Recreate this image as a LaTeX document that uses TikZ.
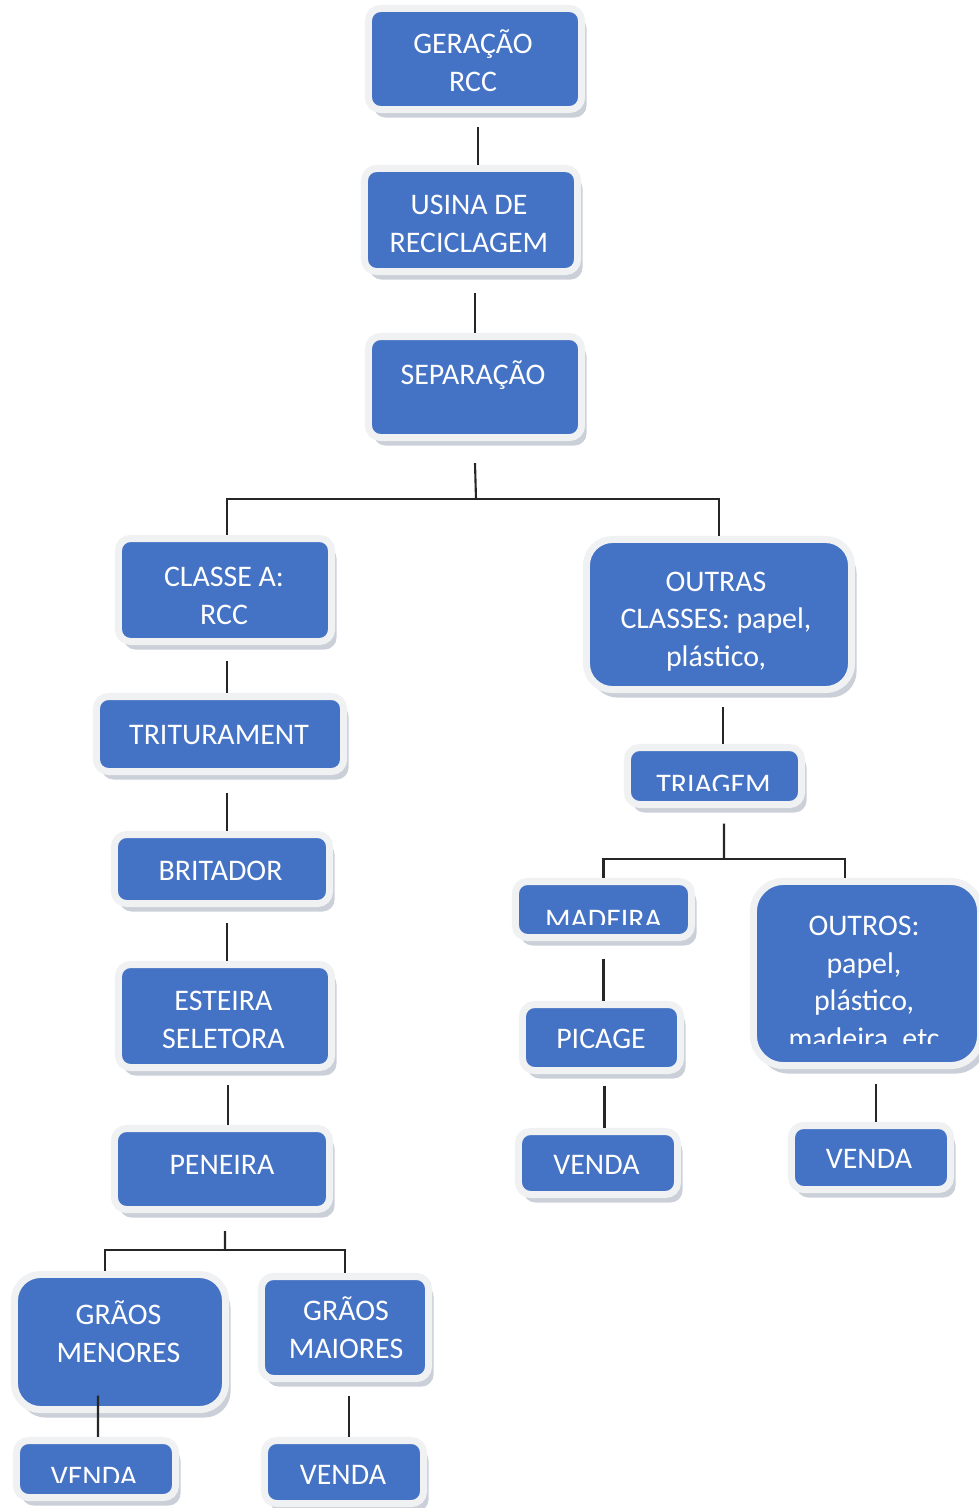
\documentclass[tikz,border=0pt]{standalone}
\usepackage{fontspec}
\setmainfont{Carlito}
\usetikzlibrary{shadows}
\definecolor{azul}{RGB}{68,114,196}
\definecolor{borda}{RGB}{240,241,243}
\definecolor{sombra}{RGB}{150,160,178}
\newcommand{\fonterot}{\fontsize{8.5}{10.7}\selectfont}

\begin{document}
\begin{tikzpicture}[x=0.01cm, y=-0.01cm,
	caixa/.style={rectangle, rounded corners=1.2mm, fill=azul, draw=borda, line width=2pt, inner sep=0pt,
		drop shadow={shadow xshift=0.5mm, shadow yshift=-0.8mm, fill=sombra}},
	caixag/.style={caixa, rounded corners=2.6mm},
	rotulo/.style={text=white, align=center, font=\fonterot, inner sep=0pt, anchor=base},
	linha/.style={line width=0.6pt, black!85}]
	\useasboundingbox (0,0) rectangle (978,1508);
	% tronco (rotulos: linha de base da ultima linha)
	\node[caixa, minimum width=2.13cm, minimum height=1.01cm] (ger) at (475,59) {};
	\node[rotulo] (tger) at (473,91.5) {GERAÇÃO\\RCC};
	\node[caixa, minimum width=2.13cm, minimum height=1.03cm] (usi) at (471,220) {};
	\node[rotulo] (tusi) at (469,252) {USINA DE\\RECICLAGEM};
	\node[caixa, minimum width=2.13cm, minimum height=1.01cm] (sep) at (475,387) {};
	\node[rotulo] (tsep) at (473,384.5) {SEPARAÇÃO};
	% ramo classe A
	\node[caixa, minimum width=2.13cm, minimum height=1.03cm] (cla) at (225,590) {};
	\node[rotulo] (tcla) at (224,624) {CLASSE A:\\RCC};
	\node[caixa, minimum width=2.47cm, minimum height=0.75cm] (tri) at (220,734) {};
	\node[rotulo] (ttri) at (219,744.5) {TRITURAMENT};
	\node[caixa, minimum width=2.15cm, minimum height=0.69cm] (bri) at (222,869) {};
	\node[rotulo] (tbri) at (220.5,880.5) {BRITADOR};
	\node[caixa, minimum width=2.13cm, minimum height=1.03cm] (est) at (225,1016) {};
	\node[rotulo] (test) at (223.5,1048) {ESTEIRA\\SELETORA};
	\node[caixa, minimum width=2.15cm, minimum height=0.81cm] (pen) at (222,1169) {};
	\node[rotulo] (tpen) at (222,1174.5) {PENEIRA};
	\node[caixag, minimum width=2.11cm, minimum height=1.35cm] (gme) at (120,1342) {};
	\node[rotulo] (tgme) at (118.5,1362) {GRÃOS\\MENORES};
	\node[caixa, minimum width=1.67cm, minimum height=1.02cm] (gma) at (345,1327.5) {};
	\node[rotulo] (tgma) at (346,1358) {GRÃOS\\MAIORES};
	\node[caixa, minimum width=1.59cm, minimum height=0.57cm] (ve1) at (96,1469) {};
	\begin{scope}
		\clip (ve1.north west) rectangle (ve1.east |- 0,1482);
		\node[rotulo] (tve1) at (94,1486) {VENDA};
	\end{scope}
	\node[caixa, minimum width=1.59cm, minimum height=0.63cm] (ve2) at (344,1472) {};
	\node[rotulo] (tve2) at (343,1484) {VENDA};
	% ramo outras classes
	\node[caixag, minimum width=2.65cm, minimum height=1.50cm] (out) at (719,614.5) {};
	\node[rotulo] (tout) at (716,666.5) {OUTRAS\\CLASSES: papel,\\plástico,};
	\node[caixa, minimum width=1.74cm, minimum height=0.57cm] (tria) at (714.5,776) {};
	\begin{scope}
		\clip (tria.north west) rectangle (tria.east |- 0,790);
		\node[rotulo] (ttria) at (713.5,794) {TRIAGEM};
	\end{scope}
	\node[caixa, minimum width=1.76cm, minimum height=0.56cm] (mad) at (603.5,909.5) {};
	\begin{scope}
		\clip (mad.north west) rectangle (mad.east |- 0,924);
		\node[rotulo] (tmad) at (603.5,929) {MADEIRA};
	\end{scope}
	\node[caixag, minimum width=2.27cm, minimum height=1.84cm, rounded corners=3mm] (outros) at (867,973.5) {};
	\begin{scope}
		\clip (outros.north west) rectangle (outros.east |- 0,1043);
		\node[rotulo] (toutros) at (864,1048.5) {OUTROS:\\papel,\\plástico,\\madeira, etc};
	\end{scope}
	\node[caixa, minimum width=1.58cm, minimum height=0.66cm] (pic) at (601.5,1037.5) {};
	\node[rotulo] (tpic) at (601,1048.5) {PICAGE};
	\node[caixa, minimum width=1.59cm, minimum height=0.63cm] (ve3) at (598,1163) {};
	\node[rotulo] (tve3) at (596.5,1174) {VENDA};
	\node[caixa, minimum width=1.59cm, minimum height=0.64cm] (ve4) at (871,1157.5) {};
	\node[rotulo] (tve4) at (869,1168.5) {VENDA};
	% ligacoes
	\coordinate (j1) at (476,499);
	\coordinate (j2) at (225,1250);
	\coordinate (j3) at (724,859);
	\draw[linha] ([xshift=0.3mm]ger.south) ++(0,14) -- ([xshift=0.3mm]ger.south |- usi.north);
	\draw[linha] ([xshift=0.4mm]usi.south) ++(0,18) -- ([xshift=0.4mm]usi.south |- sep.north);
	\draw[linha] (sep.south) ++(0,22) -- (j1);
	\draw[linha] ([xshift=0.2mm]cla.north) |- (j1) -| (out.north);
	\draw[linha] ([xshift=0.2mm]cla.south) ++(0,16) -- ([xshift=0.2mm]cla.south |- tri.north);
	\draw[linha] ([xshift=0.7mm]tri.south) ++(0,18) -- ([xshift=0.7mm]tri.south |- bri.north);
	\draw[linha] ([xshift=0.5mm]bri.south) ++(0,16) -- ([xshift=0.5mm]bri.south |- est.north);
	\draw[linha] ([xshift=0.3mm]est.south) ++(0,14) -- ([xshift=0.3mm]est.south |- pen.north);
	\draw[linha] ([xshift=0.3mm]pen.south) ++(0,18) -- (j2);
	\draw[linha] ([xshift=-1.5mm]gme.north) |- (j2) -| (gma.north);
	\draw[linha] (gme.south -| ve1.north) ++(2,-17.5) -- ([xshift=0.2mm]ve1.north);
	\draw[linha] ([xshift=0.4mm]gma.south) ++(0,13.5) -- ([xshift=0.4mm]gma.south |- ve2.north);
	\draw[linha] ([xshift=0.4mm]out.south) ++(0,14) -- ([xshift=0.4mm]out.south |- tria.north);
	\draw[linha] ([xshift=0.95mm]tria.south) ++(0,15.5) -- (j3);
	\draw[linha] (mad.north) |- (j3) -| ([xshift=-2.2mm]outros.north);
	\draw[linha] (mad.south) ++(0,17.5) -- (mad.south |- pic.north);
	\draw[linha] ([xshift=0.3mm]pic.south) ++(0,11.5) -- ([xshift=0.3mm]pic.south |- ve3.north);
	\draw[linha] ([xshift=0.9mm]outros.south) ++(0,14.5) -- ([xshift=0.9mm]outros.south |- ve4.north);
\end{tikzpicture}
\end{document}
